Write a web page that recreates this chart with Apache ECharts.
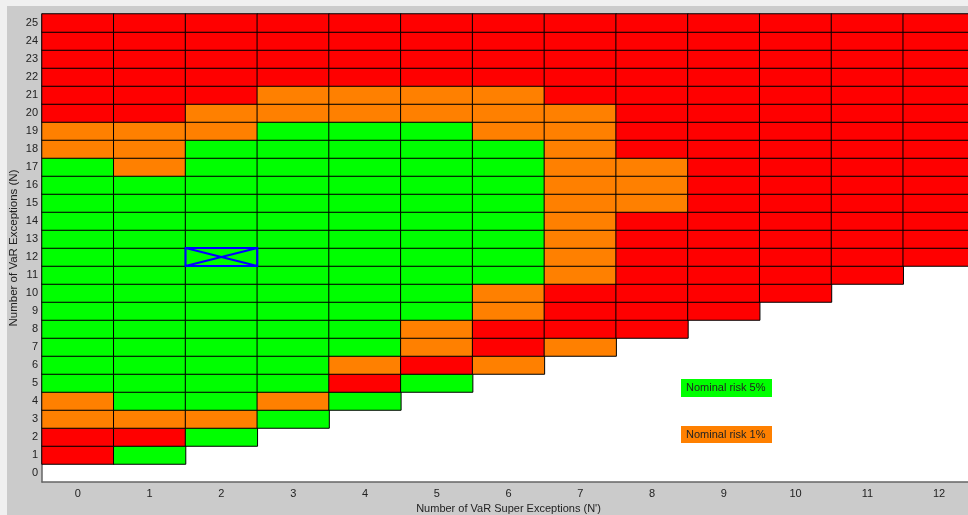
<!DOCTYPE html>
<html>
<head>
<meta charset="utf-8">
<script src="https://cdn.jsdelivr.net/npm/echarts@6/dist/echarts.min.js"></script>
<style>
    html, body { margin: 0; padding: 0; background: #f0f0f0; }
    #chartDiv { width: 968px; height: 515px; }
</style>
</head>
<body>
<div id="chartDiv"></div>
<script>
let xLabels = ["0", "1", "2", "3", "4", "5", "6", "7", "8", "9", "10", "11", "12"];
let yLabels = ["0", "1", "2", "3", "4", "5", "6", "7", "8", "9", "10", "11", "12", "13",
    "14", "15", "16", "17", "18", "19", "20", "21", "22", "23", "24", "25"];

// one string per N (row 0 first), one char per N' column
// G = green (5%), O = orange (1%), R = red, . = no cell
let zoneRows = [
    ".............",
    "RG...........",
    "RRG..........",
    "OOOG.........",
    "OGGOG........",
    "GGGGRG.......",
    "GGGGORO......",
    "GGGGGORO.....",
    "GGGGGORRR....",
    "GGGGGGORRR...",
    "GGGGGGORRRR..",
    "GGGGGGGORRRR.",
    "GGGGGGGORRRRR",
    "GGGGGGGORRRRR",
    "GGGGGGGORRRRR",
    "GGGGGGGOORRRR",
    "GGGGGGGOORRRR",
    "GOGGGGGOORRRR",
    "OOGGGGGORRRRR",
    "OOOGGGOORRRRR",
    "RROOOOOORRRRR",
    "RRROOOORRRRRR",
    "RRRRRRRRRRRRR",
    "RRRRRRRRRRRRR",
    "RRRRRRRRRRRRR",
    "RRRRRRRRRRRRR",
];
let zoneCodes = { G: 0, O: 1, R: 2 };
let zoneColors = ["#00ff00", "#ff8000", "#ff0000"];

// current observation marked with the blue crossed box
let markedCell = [[2, 12]];

let legendItems = ["Nominal risk 5%", "Nominal risk 1%"];

let chart = echarts.init(document.getElementById("chartDiv"));

let cells = [];
zoneRows.forEach(function (row, y) {
    for (let x = 0; x < row.length; x++) {
        let c = row[x];
        if (c in zoneCodes) cells.push([x, y, zoneCodes[c]]);
    }
});

let axisFont = {
    color: "#222",
    fontSize: 11,
    fontFamily: "Liberation Sans, Arial, sans-serif",
};

let options = {
    backgroundColor: "#f0f0f0",
    animation: false,
    grid: {
        left: 42,
        top: 14,
        right: -7,
        bottom: 33,
        containLabel: false,
        outerBoundsMode: "none",
        show: true,
        backgroundColor: "#ffffff",
        borderWidth: 0,
    },
    graphic: [
        {
            type: "rect",
            z: -10,
            shape: { x: 7, y: 6, width: 961, height: 509 },
            style: { fill: "#cbcbcb" },
        },
        {
            type: "rect",
            z: 100,
            shape: { x: 681, y: 379, width: 91, height: 18 },
            style: { fill: zoneColors[0] },
        },
        {
            type: "text",
            z: 101,
            x: 686,
            y: 388,
            style: Object.assign({ text: legendItems[0], verticalAlign: "middle", fill: "#222" }, {
                fontSize: 11,
                fontFamily: "Liberation Sans, Arial, sans-serif",
            }),
        },
        {
            type: "rect",
            z: 100,
            shape: { x: 681, y: 426, width: 91, height: 17 },
            style: { fill: zoneColors[1] },
        },
        {
            type: "text",
            z: 101,
            x: 686,
            y: 435,
            style: Object.assign({ text: legendItems[1], verticalAlign: "middle", fill: "#222" }, {
                fontSize: 11,
                fontFamily: "Liberation Sans, Arial, sans-serif",
            }),
        },
    ],
    xAxis: {
        type: "category",
        data: xLabels,
        name: "Number of VaR Super Exceptions (N')",
        nameLocation: "middle",
        nameGap: 19,
        nameTextStyle: axisFont,
        axisLine: { lineStyle: { color: "#666", width: 1.5 } },
        axisTick: { show: false },
        axisLabel: Object.assign({ margin: 6 }, axisFont),
        splitLine: { show: false },
    },
    yAxis: {
        type: "category",
        data: yLabels,
        name: "Number of VaR Exceptions (N)",
        nameLocation: "middle",
        nameGap: 22,
        nameMoveOverlap: false,
        nameTextStyle: Object.assign({}, axisFont, { fontSize: 11.5 }),
        axisLine: { lineStyle: { color: "#666", width: 1.5 } },
        axisTick: { show: false },
        axisLabel: Object.assign({ margin: 4 }, axisFont),
        splitLine: { show: false },
    },
    visualMap: {
        show: false,
        type: "piecewise",
        dimension: 2,
        seriesIndex: 0,
        pieces: [
            { value: 0, color: zoneColors[0] },
            { value: 1, color: zoneColors[1] },
            { value: 2, color: zoneColors[2] },
        ],
    },
    series: [
        {
            type: "heatmap",
            data: cells,
            itemStyle: { borderColor: "#000", borderWidth: 1 },
            emphasis: { disabled: true },
        },
        {
            type: "custom",
            data: markedCell,
            z: 10,
            renderItem: function (params, api) {
                let p = api.coord([api.value(0), api.value(1)]);
                let s = api.size([1, 1]);
                let x0 = p[0] - s[0] / 2, x1 = p[0] + s[0] / 2;
                let y0 = p[1] - s[1] / 2, y1 = p[1] + s[1] / 2;
                let st = { stroke: "#0000ff", lineWidth: 2, fill: null };
                return {
                    type: "group",
                    children: [
                        { type: "rect", shape: { x: x0, y: y0, width: s[0], height: s[1] }, style: st },
                        { type: "line", shape: { x1: x0, y1: y0, x2: x1, y2: y1 }, style: st },
                        { type: "line", shape: { x1: x0, y1: y1, x2: x1, y2: y0 }, style: st },
                    ],
                };
            },
        },
    ],
};
chart.setOption(options);
</script>
</body>
</html>
